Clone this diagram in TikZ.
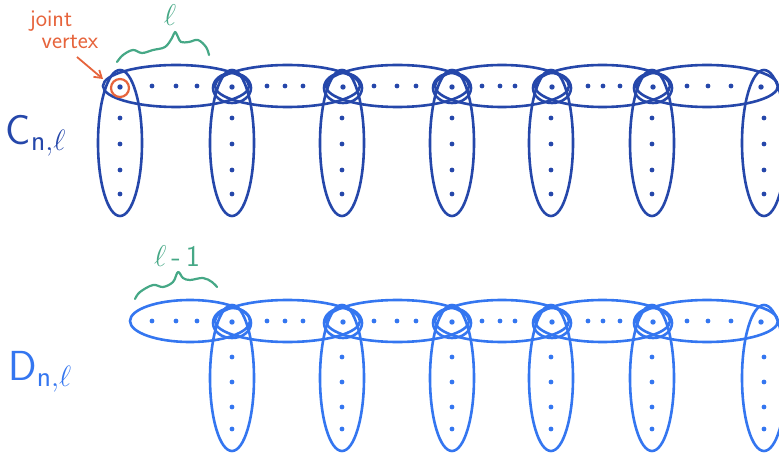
\RequirePackage{fix-cm}
\documentclass[tikz,border=0pt]{standalone}
\usepackage{fontspec}
\usetikzlibrary{arrows.meta}
\definecolor{cdark}{RGB}{37,71,170}
\definecolor{clight}{RGB}{52,118,240}
\definecolor{corange}{RGB}{230,100,60}
\definecolor{cgreen}{RGB}{70,168,134}
\begin{document}
\begin{tikzpicture}[x=1pt,y=-1pt,
  hyper/.style={line width=2.6pt},
  squig/.style={cgreen,line width=2.2pt,line cap=round,line join=round},
  lbl/.style={inner sep=0pt}]
\useasboundingbox (0,0) rectangle (779,457);
\clip (0,0) rectangle (779,457);

% ---------- top row C ----------
\begin{scope}[color=cdark]
  \foreach \a/\b in {120/232,232/343,343/452,452/552,552/653,653/761}{
    \pgfmathsetmacro\cx{(\a+\b)/2}
    \pgfmathsetmacro\rx{(\b-\a)/2+17}
    \draw[hyper] (\cx,86) ellipse [x radius=\rx pt, y radius=21pt];
  }
  \foreach \j in {232,343,452,552,653}{
    \draw[hyper] (\j,88) ellipse [x radius=19pt, y radius=15pt];
  }
  \foreach \j/\c in {120/120,232/232,343/342,452/452,552/551,653/652,761/764}{
    \draw[hyper] (\c,143) ellipse [x radius=22pt, y radius=73pt];
    \fill (\j,87) circle (2.7pt);
    \foreach \y in {118,144,170,194}{ \fill (\c,\y) circle (2.4pt); }
  }
  \foreach \x in {152,176,197,267,285,303,374,397,416,482,500,515,588,603,620,687,708,731}{
    \fill (\x,86) circle (2.4pt);
  }
\end{scope}

% ---------- bottom row D ----------
\begin{scope}[color=clight,shift={(0,235)}]
  \draw[hyper] (190,86) ellipse [x radius=60pt, y radius=21pt];
  \foreach \a/\b in {232/343,343/452,452/552,552/653,653/761}{
    \pgfmathsetmacro\cx{(\a+\b)/2}
    \pgfmathsetmacro\rx{(\b-\a)/2+17}
    \draw[hyper] (\cx,86) ellipse [x radius=\rx pt, y radius=21pt];
  }
  \foreach \j in {232,343,452,552,653}{
    \draw[hyper] (\j,88) ellipse [x radius=19pt, y radius=15pt];
  }
  \foreach \j/\c in {232/232,343/342,452/452,552/551,653/652,761/764}{
    \draw[hyper] (\c,143) ellipse [x radius=22pt, y radius=73pt];
    \fill (\j,87) circle (2.7pt);
    \foreach \y in {122,147,172,194}{ \fill (\c,\y) circle (2.4pt); }
  }
  \foreach \x in {152,176,197,267,285,303,374,397,416,482,500,515,588,603,620,687,708,731}{
    \fill (\x,86) circle (2.4pt);
  }
\end{scope}

% ---------- joint vertex annotation ----------
\draw[corange,line width=2.2pt] (120,88) circle (9pt);
\node[lbl,text=corange,font=\sffamily\fontsize{24}{25}\selectfont] (jt) at (51,21) {joint};
\node[lbl,text=corange,font=\sffamily\fontsize{24}{25}\selectfont] (vx) at (70,42) {vertex};
\coordinate (ar1) at (77,57);
\coordinate (ar2) at (103,79);
\draw[corange,line width=1.8pt,-{Straight Barb[length=7pt,width=9pt]}] (ar1) -- (ar2);

% ---------- ell braces ----------
\draw[squig] plot[smooth,tension=0.6] coordinates {(117,62) (123,55) (133,50) (142,53) (153,50) (165,47) (172,38) (175,32) (178,37) (181,42) (189,42) (198,40) (206,47) (209,55)};
\node[lbl,text=cgreen,font=\fontsize{30}{30}\selectfont] (ell) at (170,15) {$\ell$};

\draw[squig] plot[smooth,tension=0.6] coordinates {(135,299) (140,292) (153,285) (163,287) (173,282) (178,272) (183,278) (190,280) (203,278) (212,282) (217,287)};
\node[lbl,text=cgreen,font=\fontsize{30}{30}\selectfont] (ellm) at (177,256) {$\ell$\,\textsf{-}\,\textsf{1}};

% ---------- row labels ----------
\node[lbl,text=cdark,font=\sffamily\fontsize{42}{42}\selectfont] (C) at (36,136) {C$_{\mathsf{n},\ell}$};
\node[lbl,text=clight,font=\sffamily\fontsize{42}{42}\selectfont] (D) at (40,372) {D$_{\mathsf{n},\ell}$};
\end{tikzpicture}
\end{document}
